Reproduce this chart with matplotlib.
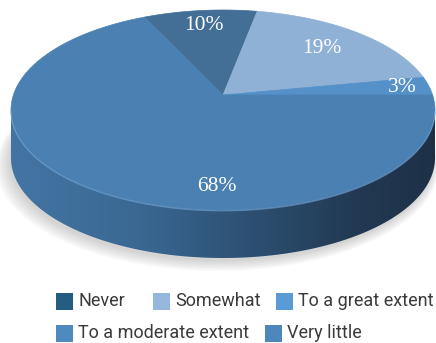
import numpy as np
import matplotlib
matplotlib.use("Agg")
import matplotlib.pyplot as plt
from matplotlib.patches import Polygon, Rectangle
from matplotlib.colors import LinearSegmentedColormap

# data
categories = ["Never", "Somewhat", "To a great extent", "To a moderate extent", "Very little"]
shares = [10, 19, 3, 68, 0]
labels = ["10%", "19%", "3%", "68%", ""]
top_colors = ["#436e95", "#8fb1d6", "#5590c8", "#4a80b2", "#4a82b6"]
legend_colors = ["#255c82", "#95b7de", "#5b9bd5", "#4e89bf", "#4c86bb"]

W, H = 436, 343
fig = plt.figure(figsize=(W / 100, H / 100), dpi=100)
ax = fig.add_axes([0, 0, 1, 1])
ax.set_xlim(0, W)
ax.set_ylim(H, 0)
ax.axis("off")

# pie geometry (pixels), simple perspective on a tilted disc
cx, cy = 223, 95
rx, ry = 209.6, 97.75
k = 0.15
depth = 48
start = np.deg2rad(115.2)


def proj(t, r=1.0):
    s = 1 + k * r * np.sin(t)
    return cx + rx * r * np.cos(t) / s, cy - ry * r * np.sin(t) / s


# soft shadow under the disc
tt = np.linspace(0, 2 * np.pi, 300)
for i in range(8):
    sx, sy = proj(tt, 1.0 + 0.006 * i)
    ax.fill(sx - 2 - 0.5 * i, sy + depth + 3 + 0.6 * i, color="#7a7a7a",
            alpha=0.045, lw=0, zorder=1)

# side of the cylinder with a horizontal gradient
a = np.arcsin(k)
ts = np.linspace(np.pi + a, 2 * np.pi - a, 300)
tx, ty = proj(ts)
side = np.vstack([np.column_stack([tx, ty]),
                  np.column_stack([tx[::-1], ty[::-1] + depth])])
side_patch = Polygon(side, closed=True, facecolor="none", edgecolor="none", zorder=2)
ax.add_patch(side_patch)
side_cmap = LinearSegmentedColormap.from_list(
    "side", [(0, "#4375a4"), (0.3, "#3a6893"), (0.55, "#2d5174"),
             (0.8, "#223a54"), (1, "#1d3146")])
grad = np.tile(np.linspace(0, 1, 256), (2, 1))
im = ax.imshow(grad, cmap=side_cmap, extent=(10, 436, 300, 0), aspect="auto",
               origin="upper", zorder=2)
im.set_clip_path(side_patch)

# top face wedges
total = sum(shares)
angle = start
mids = []
for share, col in zip(shares, top_colors):
    span = 2 * np.pi * share / total
    mids.append(angle - span / 2)
    if share > 0:
        arc = np.linspace(angle, angle - span, max(int(share * 4), 20))
        px, py = proj(arc)
        pts = np.vstack([[cx, cy], np.column_stack([px, py])])
        ax.add_patch(Polygon(pts, closed=True, facecolor=col, edgecolor=col,
                             lw=0.5, zorder=3))
    angle -= span

# light rim along the front edge
ax.plot(tx, ty + 0.8, color="#79a8d8", lw=0.9, alpha=0.6, zorder=4)

# data labels
label_r = [0.8, 0.72, 0.87, 0.825, 0.8]
for i, (lab, share) in enumerate(zip(labels, shares)):
    if share == 0:
        continue
    t = mids[i]
    if share > 50:
        t = np.deg2rad(-91.7)
    lx, ly = proj(t, label_r[i])
    ax.text(lx, ly, lab, color="white", fontsize=15.5, family="Liberation Serif",
            ha="center", va="center", zorder=5)

# legend (flow layout)
leg_pos = [(56, 293), (153, 293), (276, 293), (56, 325), (265, 325)]
for (lx, ly), name, col in zip(leg_pos, categories, legend_colors):
    ax.add_patch(Rectangle((lx, ly), 17, 17, facecolor=col, edgecolor="none", zorder=5))
    ax.text(lx + 22, ly + 8.5, name, color="#3a3a3a", fontsize=13, family="Roboto",
            ha="left", va="center", zorder=5)

ax.set_xlim(0, W)
ax.set_ylim(H, 0)
fig.savefig("out.png", dpi=100)
